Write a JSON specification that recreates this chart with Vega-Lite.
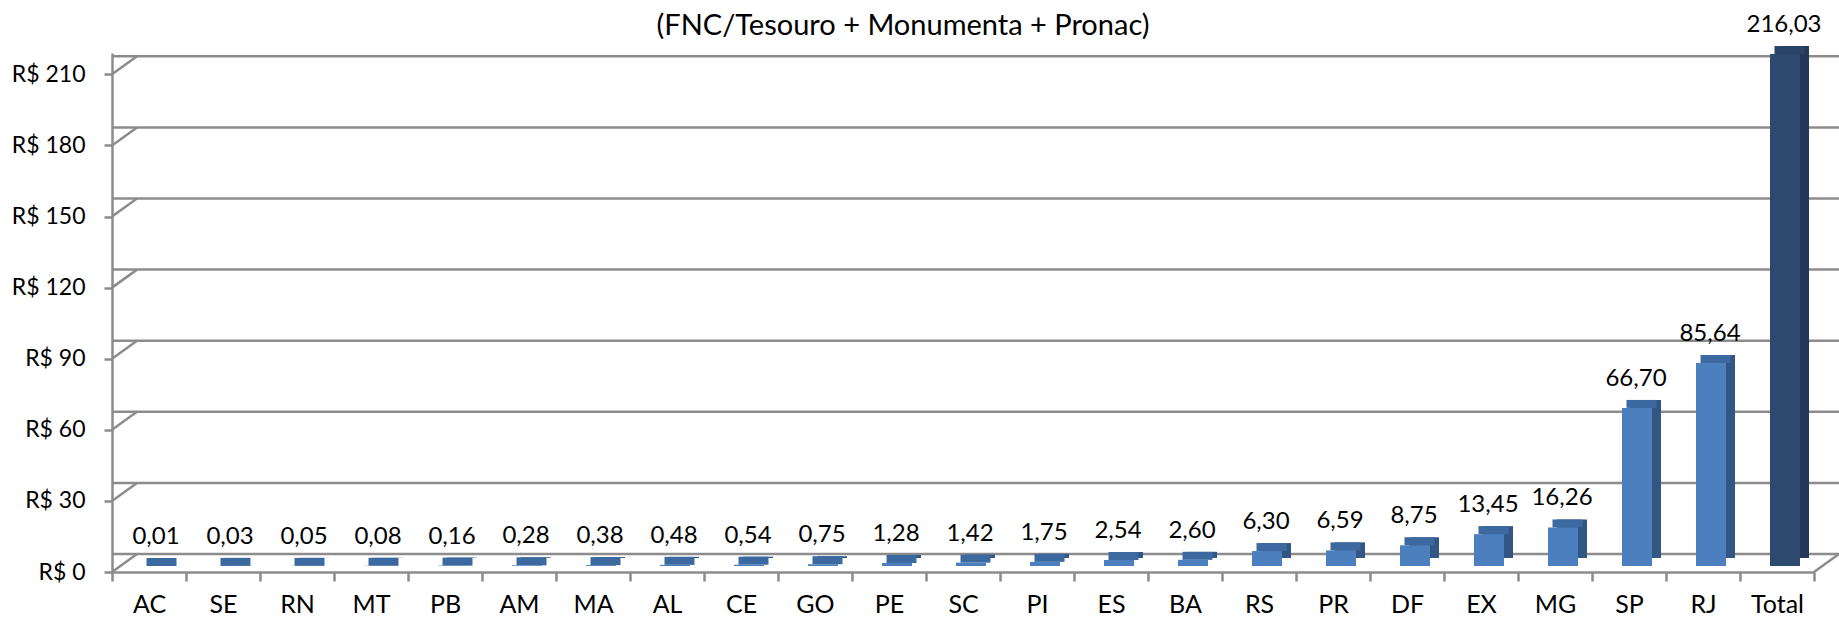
{
  "$schema": "https://vega.github.io/schema/vega-lite/v6.json",
  "autosize": {"type": "none"},
  "width": 1702,
  "height": 519,
  "padding": {"left": 112, "top": 53, "right": 25, "bottom": 48},
  "background": "white",
  "config": {
    "view": {"stroke": null},
    "locale": {"number": {"decimal": ",", "thousands": ".", "grouping": [3], "currency": ["R$ ", ""]}},
    "font": "Lato"
  },
  "title": {
    "text": "(FNC/Tesouro + Monumenta + Pronac)",
    "font": "Lato",
    "fontSize": 29,
    "fontWeight": "normal",
    "color": "#000000",
    "baseline": "alphabetic",
    "frame": "group",
    "offset": -51,
    "dx": -60
  },
  "datasets": {
    "bars": [
      {"uf": "AC", "valor": 0.01},
      {"uf": "SE", "valor": 0.03},
      {"uf": "RN", "valor": 0.05},
      {"uf": "MT", "valor": 0.08},
      {"uf": "PB", "valor": 0.16},
      {"uf": "AM", "valor": 0.28},
      {"uf": "MA", "valor": 0.38},
      {"uf": "AL", "valor": 0.48},
      {"uf": "CE", "valor": 0.54},
      {"uf": "GO", "valor": 0.75},
      {"uf": "PE", "valor": 1.28},
      {"uf": "SC", "valor": 1.42},
      {"uf": "PI", "valor": 1.75},
      {"uf": "ES", "valor": 2.54},
      {"uf": "BA", "valor": 2.60},
      {"uf": "RS", "valor": 6.30},
      {"uf": "PR", "valor": 6.59},
      {"uf": "DF", "valor": 8.75},
      {"uf": "EX", "valor": 13.45},
      {"uf": "MG", "valor": 16.26},
      {"uf": "SP", "valor": 66.70},
      {"uf": "RJ", "valor": 85.64},
      {"uf": "Total", "valor": 216.03}
    ],
    "grid": [
      {"v": 0}, {"v": 30}, {"v": 60}, {"v": 90}, {"v": 120}, {"v": 150}, {"v": 180}, {"v": 210}
    ]
  },
  "encoding": {
    "x": {
      "field": "uf", "type": "nominal", "sort": null, "title": null,
      "scale": {
        "domain": ["AC", "SE", "RN", "MT", "PB", "AM", "MA", "AL", "CE", "GO", "PE", "SC", "PI", "ES", "BA", "RS", "PR", "DF", "EX", "MG", "SP", "RJ", "Total"],
        "paddingInner": 0, "paddingOuter": 0
      },
      "axis": {
        "labelAngle": 0, "labelFont": "Lato", "labelFontSize": 25, "labelColor": "#000000",
        "labelPadding": 11, "tickBand": "extent", "tickSize": 9, "tickColor": "#8c8c8c", "tickWidth": 2.5,
        "domainColor": "#8c8c8c", "domainWidth": 2.5, "grid": false
      }
    },
    "y": {
      "field": "valor", "type": "quantitative", "title": null,
      "scale": {"domain": [0, 219], "nice": false},
      "axis": {
        "values": [0, 30, 60, 90, 120, 150, 180, 210],
        "labelExpr": "'R$ ' + datum.value",
        "labelFont": "Lato", "labelFontSize": 23, "labelColor": "#000000", "labelPadding": 19,
        "tickSize": 8, "tickColor": "#8c8c8c", "tickWidth": 2.5,
        "domainColor": "#8c8c8c", "domainWidth": 2.5, "grid": false
      }
    }
  },
  "layer": [
    {
      "data": {"name": "grid"},
      "mark": {"type": "rule", "color": "#8c8c8c", "strokeWidth": 2.5, "xOffset": 25, "yOffset": -18},
      "encoding": {
        "x": null,
        "y": {"field": "v", "type": "quantitative", "title": null}
      }
    },
    {
      "data": {"name": "grid"},
      "mark": {"type": "rule", "color": "#8c8c8c", "strokeWidth": 2.5, "xOffset": -37, "x2Offset": -12, "y2Offset": -18},
      "encoding": {
        "x": {"datum": "AC", "type": "nominal"},
        "x2": {"datum": "AC"},
        "y": {"field": "v", "type": "quantitative", "title": null},
        "y2": {"field": "v"}
      }
    },
    {
      "data": {"values": [{"v": 0}]},
      "mark": {"type": "rule", "color": "#8c8c8c", "strokeWidth": 2.5, "xOffset": 37, "x2Offset": 62, "y2Offset": -18},
      "encoding": {
        "x": {"datum": "Total", "type": "nominal"},
        "x2": {"datum": "Total"},
        "y": {"field": "v", "type": "quantitative", "title": null},
        "y2": {"field": "v"}
      }
    },
    {
      "data": {"name": "bars"},
      "mark": {"type": "bar", "size": 30, "xOffset": 17, "yOffset": -14},
      "encoding": {
        "color": {"condition": {"test": "datum.uf === 'Total'", "value": "#24395a"}, "value": "#335785"}
      }
    },
    {
      "data": {"name": "bars"},
      "mark": {"type": "tick", "size": 30, "thickness": 8, "xOffset": 12.5, "yOffset": -10, "opacity": 1},
      "encoding": {
        "color": {"condition": {"test": "datum.uf === 'Total'", "value": "#2a4466"}, "value": "#3d69a1"}
      }
    },
    {
      "data": {"name": "bars"},
      "mark": {"type": "bar", "size": 30, "xOffset": 8, "yOffset": -6},
      "encoding": {
        "color": {"condition": {"test": "datum.uf === 'Total'", "value": "#2d4a6e"}, "value": "#4c7fbd"}
      }
    },
    {
      "data": {"name": "bars"},
      "mark": {"type": "text", "font": "Lato", "fontSize": 24, "color": "#000000", "baseline": "middle", "xOffset": 7, "yOffset": -35},
      "encoding": {
        "text": {"field": "valor", "type": "quantitative", "format": ",.2f"}
      }
    }
  ]
}
